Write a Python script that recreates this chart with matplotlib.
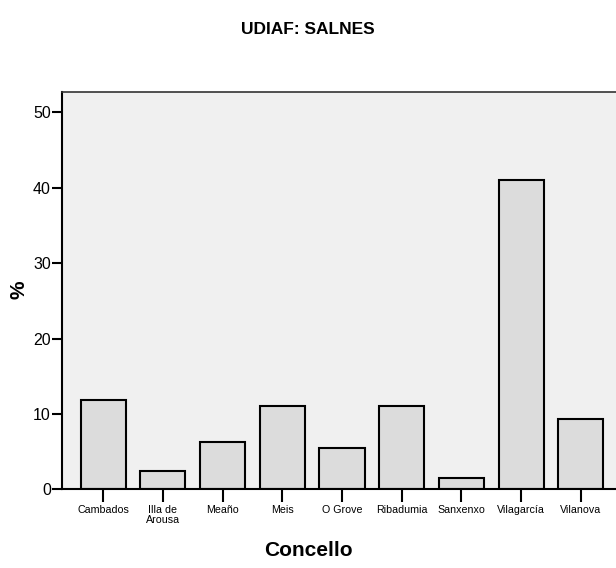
import matplotlib.pyplot as plt

concellos = ['Cambados', 'Illa de\nArousa', 'Meaño', 'Meis', 'O Grove',
             'Ribadumia', 'Sanxenxo', 'Vilagarcía', 'Vilanova']
porcentaxes = [11.84, 2.39, 6.27, 11.05, 5.48, 11.05, 1.54, 41.02, 9.36]

plt.rcParams['font.family'] = ['Liberation Sans', 'DejaVu Sans']

fig = plt.figure(figsize=(6.16, 5.68), dpi=100)
ax = fig.add_axes([62 / 616, 78.7 / 568, 560 / 616, 397.3 / 568])
ax.set_facecolor('#F0F0F0')

x = range(len(concellos))
ax.bar(x, porcentaxes, width=0.754, color='#DCDCDC', edgecolor='black',
       linewidth=1.5, zorder=2)

ax.set_xlim(-0.69, 8.69)
ax.set_ylim(0, 52.7)
ax.set_yticks([0, 10, 20, 30, 40, 50])
ax.set_xticks(list(x))
ax.set_xticklabels(concellos, fontsize=7.7, linespacing=1.0)
ax.tick_params(axis='y', length=7, width=1.5, labelsize=11.5, pad=1)
ax.tick_params(axis='x', length=9, width=1.5, pad=2)

for s in ['left', 'bottom']:
    ax.spines[s].set_linewidth(1.5)
ax.spines['top'].set_linewidth(1.2)
ax.spines['top'].set_color('#333333')

fig.text(0.5, 1 - 30 / 568, 'UDIAF: SALNES', ha='center', va='center',
         fontsize=12.5, fontweight='bold')
fig.text(0.5, 1 - 551 / 568, 'Concello', ha='center', va='center',
         fontsize=15, fontweight='bold')
fig.text(19 / 616, 1 - 290 / 568, '%', ha='center', va='center',
         fontsize=15, fontweight='bold', rotation=90)

plt.savefig('out.png', dpi=100)
